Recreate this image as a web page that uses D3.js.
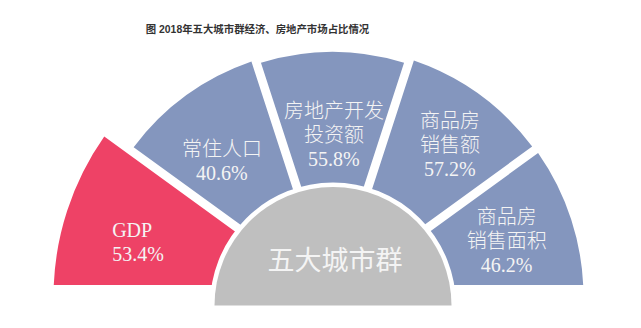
<!DOCTYPE html>
<html>
<head>
<meta charset="utf-8">
<script src="https://cdn.jsdelivr.net/npm/d3@7"></script>
<style>
  html, body { margin: 0; padding: 0; background: #ffffff; }
  svg { display: block; }
</style>
</head>
<body>
<svg id="chart" width="641" height="328"></svg>
<script>
// ---------------- data ----------------
const title = "图 2018年五大城市群经济、房地产市场占比情况";
const centerLabel = "五大城市群";
const categories = ["GDP", "常住人口", "房地产开发投资额", "商品房销售额", "商品房销售面积"];
const labelLines = [["GDP"], ["常住人口"], ["房地产开发", "投资额"], ["商品房", "销售额"], ["商品房", "销售面积"]];
const shares = [53.4, 40.6, 55.8, 57.2, 46.2];
const highlighted = ["GDP"];

// ---------------- layout ----------------
const W = 641, H = 328;
const cx = 332.5, cy = 297;          // fan centre
const baseY = 285;                   // flat bottom of the fan
const outerR = [279, 249, 245, 250, 251];
const innerR = 80;
const hub = { cx: 333, cy: 305.5, r: 118.5 };
const labelPolar = [[-76.1, 227], [-39.2, 175], [0.5, 162], [37.7, 192], [72.1, 183]];
const labelAnchor = ["start", "middle", "middle", "middle", "middle"];
const lineGap = 24;
const colors = { highlight: "#EE4266", normal: "#8496BE", hub: "#BFBFBF", text: "#F4F4F4", title: "#333333" };

const svg = d3.select("#chart");

// title
svg.append("text")
  .attr("x", 257.5).attr("y", 33)
  .attr("text-anchor", "middle")
  .style("font-family", "'Liberation Sans', Arial, 'Noto Sans CJK SC', sans-serif")
  .style("font-size", "10.4px").style("font-weight", "bold")
  .attr("fill", colors.title)
  .text(title);

// clip for flat bottom
svg.append("defs").append("clipPath").attr("id", "fanClip")
  .append("rect").attr("x", 0).attr("y", 0).attr("width", W).attr("height", baseY);

const pie = d3.pie().value(() => 1).sort(null)
  .startAngle(-Math.PI / 2).endAngle(Math.PI / 2);
const slices = pie(categories.map((c, i) => ({ name: c, share: shares[i], lines: labelLines[i], i })));

const arc = d3.arc()
  .innerRadius(innerR)
  .outerRadius(d => outerR[d.data.i])
  .padRadius(100)
  .padAngle(0.087);

const fanWrap = svg.append("g").attr("clip-path", "url(#fanClip)");
const fanG = fanWrap.append("g").attr("transform", `translate(${cx},${cy})`);

fanG.selectAll("path.slice")
  .data(slices)
  .join("path")
  .attr("class", "slice")
  .attr("d", arc)
  .attr("fill", d => highlighted.includes(d.data.name) ? colors.highlight : colors.normal);

// central hub (semicircle)
const hubArc = d3.arc()
  .innerRadius(0).outerRadius(hub.r)
  .startAngle(-Math.PI / 2).endAngle(Math.PI / 2);
svg.append("path")
  .attr("transform", `translate(${hub.cx},${hub.cy})`)
  .attr("d", hubArc())
  .attr("fill", colors.hub)
  .attr("stroke", "#ffffff")
  .attr("stroke-width", 9);
svg.append("path")
  .attr("transform", `translate(${hub.cx},${hub.cy})`)
  .attr("d", hubArc())
  .attr("fill", colors.hub);

svg.append("text")
  .attr("x", hub.cx + 2).attr("y", 270)
  .attr("text-anchor", "middle")
  .style("font-family", "'Noto Sans CJK SC', sans-serif")
  .style("font-size", "27px")
  .attr("fill", colors.text)
  .text(centerLabel);

// slice labels
const labG = svg.append("g");
slices.forEach((d, k) => {
  const [angDeg, r] = labelPolar[k];
  const a = angDeg * Math.PI / 180;
  const lx = cx + r * Math.sin(a);
  const ly = cy - r * Math.cos(a);
  const lines = d.data.lines.concat([d3.format(".1f")(d.data.share) + "%"]);
  const n = lines.length;
  const t = labG.append("text")
    .attr("text-anchor", labelAnchor[k])
    .style("font-family", "'Liberation Serif', 'Times New Roman', 'Noto Sans CJK SC', serif")
    .style("font-size", "20px")
    .style("font-weight", 300)
    .attr("fill", colors.text);
  lines.forEach((ln, j) => {
    t.append("tspan")
      .attr("x", lx)
      .attr("y", ly - (n - 1) * lineGap / 2 + j * lineGap + 7)
      .text(ln);
  });
});
</script>
</body>
</html>
